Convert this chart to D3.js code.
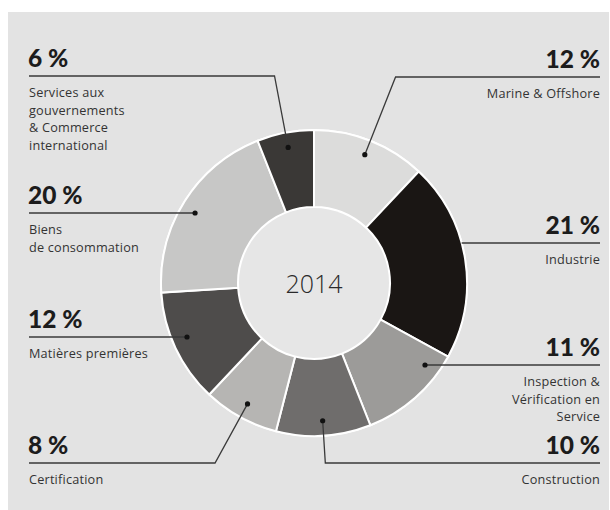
<!DOCTYPE html>
<html>
<head>
<meta charset="utf-8">
<script src="https://cdn.jsdelivr.net/npm/d3@7"></script>
<style>
  body { margin: 0; background: #fff; }
  svg { display: block; }
  .pct { font-family: Lato, "Open Sans", sans-serif; font-weight: 900; font-size: 24.5px; fill: #1c1c1c; }
  .lbl { font-family: "Open Sans", sans-serif; font-size: 12.7px; fill: #333; letter-spacing: 0.2px; }
  .year { font-family: "Open Sans", sans-serif; font-weight: 300; font-size: 25px; fill: #2a2a2a; }
</style>
</head>
<body>
<svg id="chart"></svg>
<script>
// data
const year = "2014";
const categories = ["Marine & Offshore", "Industrie", "Inspection & Vérification en Service",
  "Construction", "Certification", "Matières premières", "Biens de consommation",
  "Services aux gouvernements & Commerce international"];
const shares = [12, 21, 11, 10, 8, 12, 20, 6];
const labelLines = [
  ["Marine & Offshore"],
  ["Industrie"],
  ["Inspection &", "Vérification en", "Service"],
  ["Construction"],
  ["Certification"],
  ["Matières premières"],
  ["Biens", "de consommation"],
  ["Services aux", "gouvernements", "& Commerce", "international"]
];

// look
const fills = ["#dcdcdb", "#1a1614", "#9c9b99", "#6f6d6c", "#b6b5b3", "#4e4c4b", "#c7c7c6", "#3a3836"];
// label placement: side and y of the rule, leader kind
const layout = [
  {side: "right", ruleY: 77, leader: "radial"},
  {side: "right", ruleY: 243, leader: "edge"},
  {side: "right", ruleY: 365, leader: "flat"},
  {side: "right", ruleY: 463, leader: "radial"},
  {side: "left", ruleY: 463, leader: "radial"},
  {side: "left", ruleY: 337, leader: "flat"},
  {side: "left", ruleY: 213, leader: "flat"},
  {side: "left", ruleY: 76, leader: "radial"}
];

const width = 610, height = 510;
const cx = 314, cy = 283;
const outerR = 153, innerR = 76, dotR = 138;
const leftX = 29, rightX = 600;
const lineGap = 17.5;

const svg = d3.select("#chart").attr("width", width).attr("height", height);

svg.append("rect")
  .attr("x", 8).attr("y", 12)
  .attr("width", 601).attr("height", 498)
  .attr("fill", "#e3e3e3");

const data = categories.map((c, i) => ({name: c, value: shares[i], i}));

const pie = d3.pie().sort(null).value(d => d.value);
const arc = d3.arc().innerRadius(innerR).outerRadius(outerR);
const arcs = pie(data);

const g = svg.append("g").attr("transform", `translate(${cx},${cy})`);

g.append("circle").attr("r", outerR + 1).attr("fill", "#fff");

g.selectAll("path.slice")
  .data(arcs)
  .join("path")
    .attr("class", "slice")
    .attr("d", arc)
    .attr("fill", d => fills[d.data.i])
    .attr("stroke", "#fff")
    .attr("stroke-width", 2);

g.append("circle").attr("r", innerR - 1).attr("fill", "#e6e6e6");

g.append("text")
  .attr("class", "year")
  .attr("text-anchor", "middle")
  .attr("y", 10)
  .text(year);

// leaders + labels
const ann = svg.append("g");

arcs.forEach(a => {
  const L = layout[a.data.i];
  const sgn = L.side === "right" ? 1 : -1;
  const mid = (a.startAngle + a.endAngle) / 2;
  let dot, elbowX;
  if (L.leader === "radial") {
    dot = [cx + dotR * Math.sin(mid), cy - dotR * Math.cos(mid)];
    // follow the same ray out to the rule
    const t = (cy - L.ruleY) / Math.cos(mid);
    elbowX = cx + t * Math.sin(mid);
  } else {
    const r = L.leader === "edge" ? outerR : dotR;
    const dy = L.ruleY - cy;
    dot = [cx + sgn * Math.sqrt(r * r - dy * dy), L.ruleY];
    elbowX = dot[0];
  }
  const endX = L.side === "right" ? rightX : leftX;

  ann.append("path")
    .attr("d", d3.line()([dot, [elbowX, L.ruleY], [endX, L.ruleY]]))
    .attr("fill", "none")
    .attr("stroke", "#3a3a3a")
    .attr("stroke-width", 1.3);

  if (L.leader !== "edge") {
    ann.append("circle")
      .attr("cx", dot[0]).attr("cy", dot[1])
      .attr("r", 2.6).attr("fill", "#111");
  }

  const anchor = L.side === "right" ? "end" : "start";
  ann.append("text")
    .attr("class", "pct")
    .attr("x", endX - (L.side === "right" ? 0 : 1))
    .attr("y", L.ruleY - 9)
    .attr("text-anchor", anchor)
    .text(a.data.value + " %");

  ann.append("text")
    .attr("class", "lbl")
    .attr("text-anchor", anchor)
    .selectAll("tspan")
    .data(labelLines[a.data.i])
    .join("tspan")
      .attr("x", endX)
      .attr("y", (d, k) => L.ruleY + 21 + k * lineGap)
      .text(d => d);
});
</script>
</body>
</html>
